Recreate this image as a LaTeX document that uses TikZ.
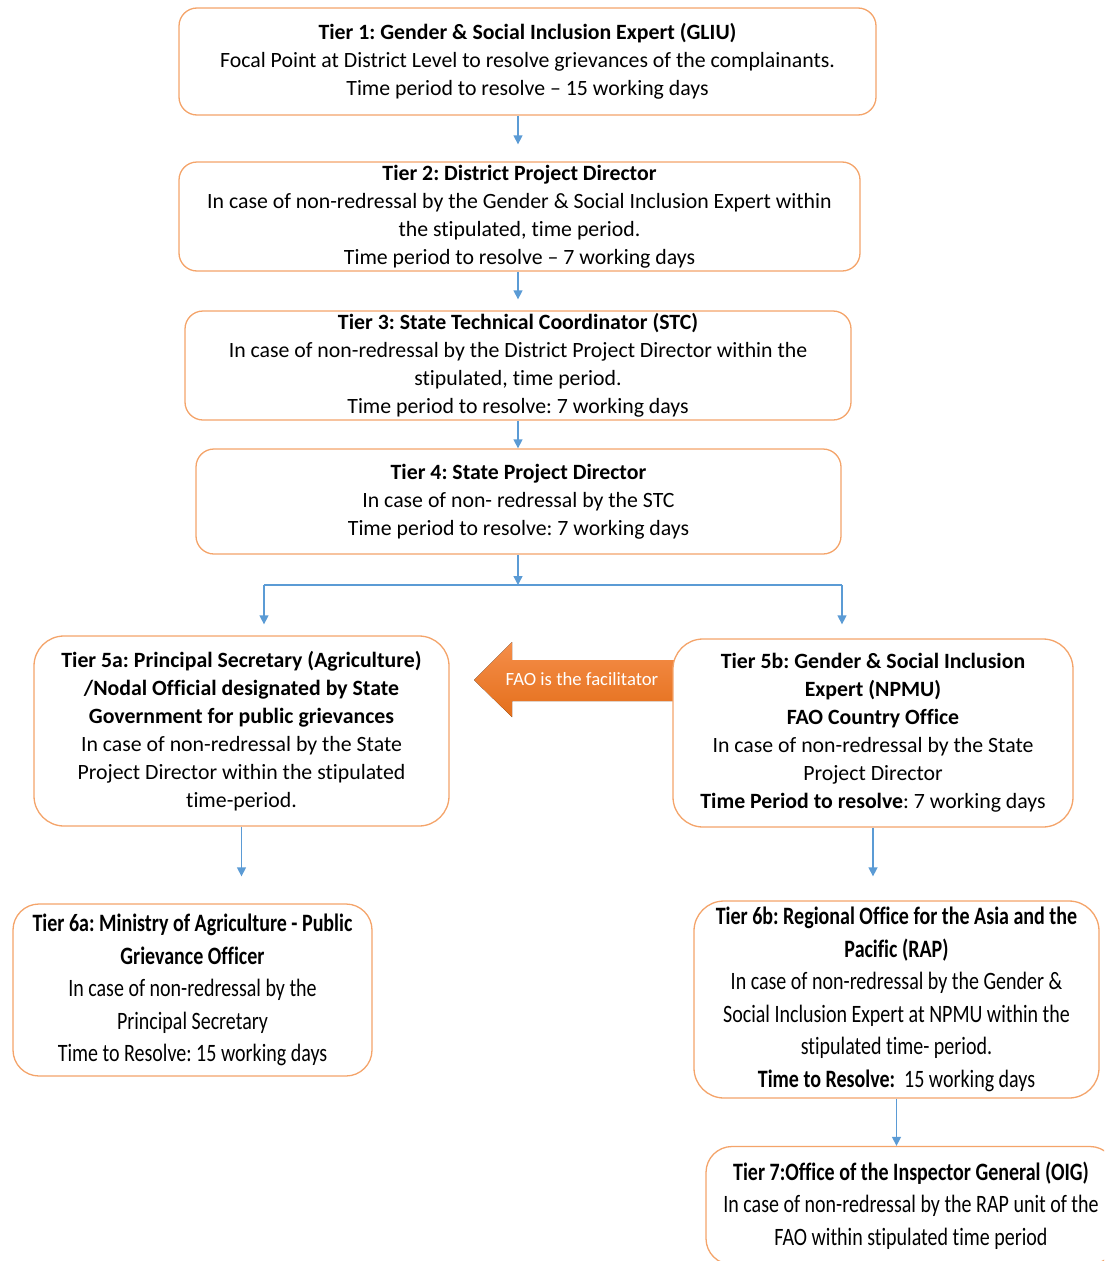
\documentclass[tikz,border=0pt]{standalone}
\usepackage{fontspec}
\setmainfont{Carlito}[Ligatures=NoCommon]
\newfontfamily\narrowfont{Carlito}[FakeStretch=0.8, Ligatures=NoCommon]
\usetikzlibrary{arrows.meta,positioning}
\frenchspacing
\definecolor{boxline}{HTML}{F4A46A}
\definecolor{flowblue}{HTML}{5B9BD5}
\definecolor{faotop}{HTML}{F58E4A}
\definecolor{faobottom}{HTML}{E46F1B}
\tikzset{
  tier/.style={draw=boxline, line width=1.3pt, rounded corners=18pt, fill=white,
    align=center, inner sep=0pt, font=\fontsize{21.8}{28}\selectfont},
  tiernarrow/.style={tier, rounded corners=26pt, font=\narrowfont\fontsize{25}{32.5}\selectfont},
  flow/.style={draw=flowblue, line width=1.4pt, -{Triangle[width=9pt,length=9pt]}},
  flowline/.style={draw=flowblue, line width=1.4pt},
}
\begin{document}
\begin{tikzpicture}[x=1pt, y=-1pt]
    \path[use as bounding box, clip] (0,0) rectangle (1104,1261);
    % facilitator arrow, under tier 5b
    \fill[top color=faotop, bottom color=faobottom] (474,680) -- (512,642) -- (512,660) -- (690,660)
        -- (690,701) -- (512,701) -- (512,717) -- cycle;
    \node[text=white, font=\fontsize{18.7}{20}\selectfont] (fao) at (582,679) {FAO is the facilitator};
    % tiers
    \node[tier, minimum width=697pt, minimum height=107pt] (t1) at (527.5,61.5)
        {\textbf{Tier 1: Gender \& Social Inclusion Expert (GLIU)}\\
         Focal Point at District Level to resolve grievances of the complainants.\\
         Time period to resolve -- 15 working days};
    \node[tier, minimum width=681pt, minimum height=109pt] (t2) at (519.5,216.5)
        {\textbf{Tier 2: District Project Director}\\
         In case of non-redressal by the Gender \& Social Inclusion Expert within\\
         the stipulated, time period.\\
         Time period to resolve -- 7 working days};
    \node[tier, minimum width=666pt, minimum height=109pt] (t3) at (518,365.5)
        {\textbf{Tier 3: State Technical Coordinator (STC)}\\
         In case of non-redressal by the District Project Director within the\\
         stipulated, time period.\\
         Time period to resolve: 7 working days};
    \node[tier, minimum width=645pt, minimum height=105pt] (t4) at (518.5,501.5)
        {\textbf{Tier 4: State Project Director}\\
         In case of non- redressal by the STC\\
         Time period to resolve: 7 working days};
    \node[tier, rounded corners=30pt, minimum width=415pt, minimum height=190pt] (t5a) at (241.5,731)
        {\textbf{Tier 5a: Principal Secretary (Agriculture)}\\
         \textbf{/Nodal Official designated by State}\\
         \textbf{Government for public grievances}\\
         In case of non-redressal by the State\\
         Project Director within the stipulated\\
         time-period.};
    \node[tier, rounded corners=30pt, minimum width=400pt, minimum height=188pt] (t5b) at (873,733)
        {\textbf{Tier 5b: Gender \& Social Inclusion}\\
         \textbf{Expert (NPMU)}\\
         \textbf{FAO Country Office}\\
         In case of non-redressal by the State\\
         Project Director\\
         \textbf{Time Period to resolve}: 7 working days};
    \node[tiernarrow, minimum width=359pt, minimum height=172pt] (t6a) at (192.5,990)
        {\textbf{Tier 6a: Ministry of Agriculture - Public}\\
         \textbf{Grievance Officer}\\
         In case of non-redressal by the\\
         Principal Secretary\\
         Time to Resolve: 15 working days};
    \node[tiernarrow, rounded corners=30pt, minimum width=405pt, minimum height=197pt] (t6b) at (896.5,999.5)
        {\textbf{Tier 6b: Regional Office for the Asia and the}\\
         \textbf{Pacific (RAP)}\\
         In case of non-redressal by the Gender \&\\
         Social Inclusion Expert at NPMU within the\\
         stipulated time- period.\\
         \textbf{Time to Resolve:}\ \ 15 working days};
    \node[tiernarrow, minimum width=410pt, minimum height=118pt] (t7) at (911,1205.5)
        {\textbf{Tier 7:Office of the Inspector General (OIG)}\\
         In case of non-redressal by the RAP unit of the\\
         FAO within stipulated time period};
    % connectors
    \coordinate (spine) at (518,0);
    \coordinate (split) at (518,585);
    \coordinate (splitL) at (264,585);
    \coordinate (splitR) at (842,585);
    \draw[flow, shorten >=17pt] (t1.south -| spine) -- (t2.north -| spine);
    \draw[flow, shorten >=11pt] (t2.south -| spine) -- (t3.north -| spine);
    \draw[flow] (t3.south -| spine) -- (t4.north -| spine);
    \draw[flowline] (splitL) -- (splitR);
    \draw[flow] (t4.south -| spine) -- (split);
    \draw[flow, shorten >=11pt] (splitL) -- (t5a.north -| splitL);
    \draw[flow, shorten >=14pt] (splitR) -- (t5b.north -| splitR);
    \draw[flow, shorten >=27pt] (t5a.south) -- (t6a.north -| t5a.south);
    \draw[flow, shorten >=24pt] (t5b.south) -- (t6b.north -| t5b.south);
    \draw[flow] (t6b.south) -- (t7.north -| t6b.south);
\end{tikzpicture}
\end{document}
